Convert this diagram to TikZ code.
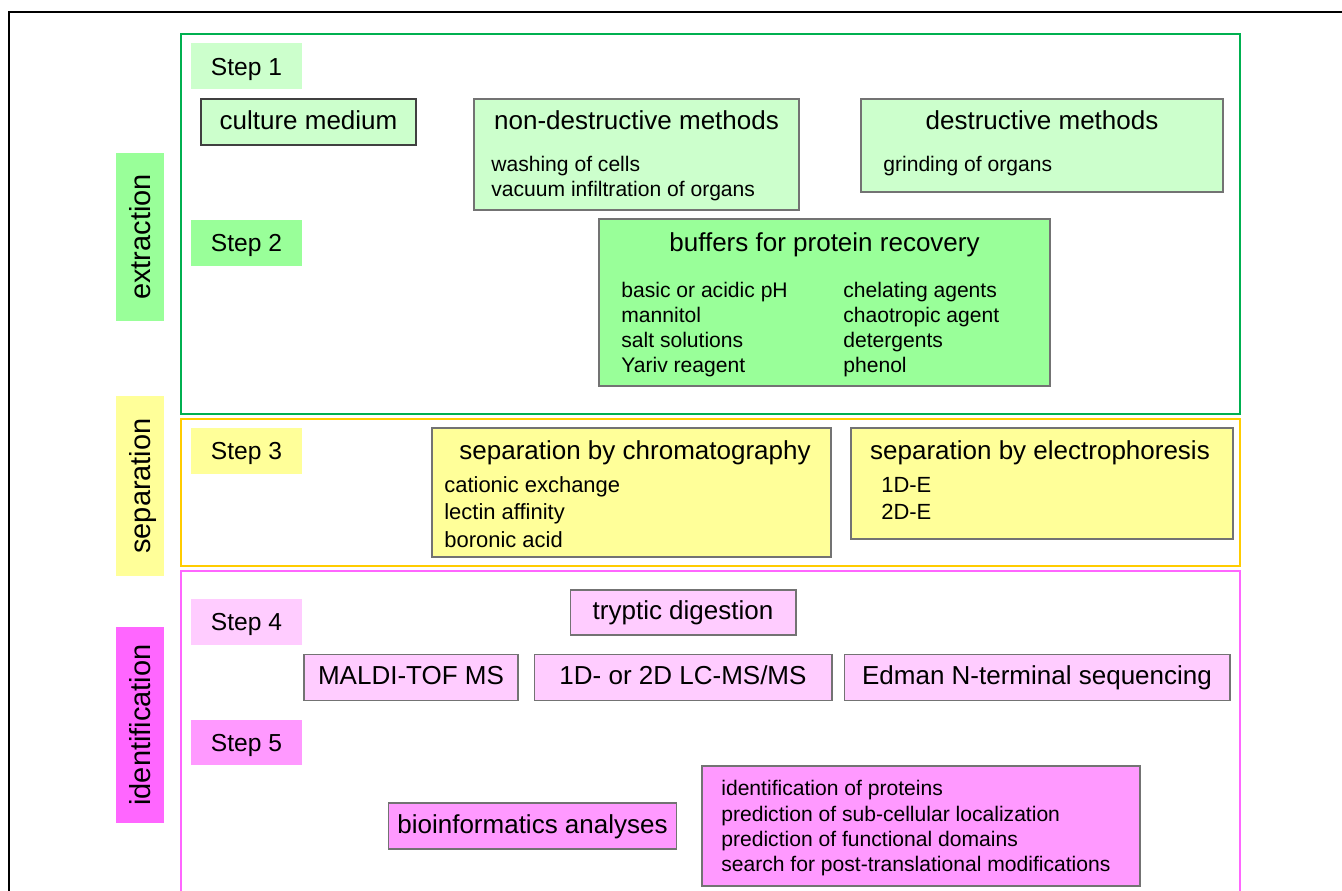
\documentclass[tikz,border=0pt]{standalone}
\usepackage{fontspec}
\setmainfont{Liberation Sans}
\usetikzlibrary{fit}

\definecolor{extgreen}{RGB}{0,176,80}
\definecolor{sepgold}{RGB}{255,204,0}
\definecolor{idpink}{RGB}{255,102,255}
\definecolor{palegreen}{RGB}{204,255,204}
\definecolor{midgreen}{RGB}{153,255,153}
\definecolor{paleyellow}{RGB}{255,255,153}
\definecolor{palepink}{RGB}{255,204,255}
\definecolor{midpink}{RGB}{255,153,255}

\tikzstyle{frame} = [rectangle, draw, line width=1.2pt, inner sep=0pt]
\tikzstyle{sidelabel} = [rectangle, rotate=90, minimum height=0.96cm, text height=13pt, text depth=1.5pt, font=\fontsize{16.5}{20}\selectfont]
\tikzstyle{steplabel} = [rectangle, minimum width=2.22cm, minimum height=0.92cm, text height=10.2pt, text depth=0.5pt, font=\fontsize{14}{17}\selectfont]
\tikzstyle{cell} = [rectangle, draw=black!55, line width=0.6pt, inner sep=0pt, minimum height=0.92cm, text height=10.7pt, text depth=2.7pt, font=\fontsize{14.8}{18}\selectfont]
\tikzstyle{panel} = [rectangle, draw=black!55, line width=0.6pt, inner sep=0pt]
\tikzstyle{title} = [anchor=base, inner sep=0pt, font=\fontsize{14.8}{18}\selectfont]
\tikzstyle{item} = [anchor=base west, inner sep=0pt, font=\fontsize{12}{14}\selectfont]

\begin{document}
\begin{tikzpicture}[x=0.02cm, y=-0.02cm]

    \clip (0,0) rectangle (1342,891);

    % Outer frame
    \draw [line width=1.4pt] (9,930) -- (9,12) -- (1380,12);

    % Stage frames
    \node (extframe) [frame, draw=extgreen, fit={(181,34) (1240,414)}] {};
    \node (sepframe) [frame, draw=sepgold, fit={(181,419) (1240,566)}] {};
    \node (idframe) [frame, draw=idpink, fit={(181,571) (1240,940)}] {};

    % Stage labels
    \node (extlabel) [sidelabel, fill=midgreen, minimum width=3.36cm] at (140,237) {extraction};
    \node (seplabel) [sidelabel, fill=paleyellow, minimum width=3.6cm] at (140,486) {separation};
    \node (idlabel) [sidelabel, fill=idpink, minimum width=3.92cm] at (140,725) {identification};

    % Step labels
    \node (step1) [steplabel, fill=palegreen] at (246.5,66.5) {Step 1};
    \node (step2) [steplabel, fill=midgreen] at (246.5,243) {Step 2};
    \node (step3) [steplabel, fill=paleyellow] at (246.5,451) {Step 3};
    \node (step4) [steplabel, fill=palepink] at (246.5,622) {Step 4};
    \node (step5) [steplabel, fill=midpink] at (246.5,742.5) {Step 5};

    % Extraction
    \node (culture) [cell, fill=palegreen, draw=black!75, minimum width=4.3cm] at (308.5,122) {culture medium};

    \node (nondes) [panel, fill=palegreen, fit={(474,99) (799,210)}] {};
    \node (nondestitle) [title] at (636.5,130) {non-destructive methods};
    \node (washing) [item] at (491,172) {washing of cells};
    \node (vacuum) [item] at (491,197) {vacuum infiltration of organs};

    \node (des) [panel, fill=palegreen, fit={(861,99) (1223,192)}] {};
    \node (destitle) [title] at (1042,130) {destructive methods};
    \node (grinding) [item] at (883,172) {grinding of organs};

    \node (buffers) [panel, fill=midgreen, fit={(599,219) (1050,386)}] {};
    \node (bufferstitle) [title] at (824.5,252) {buffers for protein recovery};
    \node (ph) [item] at (621,298) {basic or acidic pH};
    \node (mannitol) [item] at (621,323) {mannitol};
    \node (salt) [item] at (621,348) {salt solutions};
    \node (yariv) [item] at (621,373) {Yariv reagent};
    \node (chelating) [item] at (843,298) {chelating agents};
    \node (chaotropic) [item] at (843,323) {chaotropic agent};
    \node (detergents) [item] at (843,348) {detergents};
    \node (phenol) [item] at (843,373) {phenol};

    % Separation
    \node (chrom) [panel, fill=paleyellow, fit={(432,428) (831,557)}] {};
    \node (chromtitle) [title] at (635,460) {separation by chromatography};
    \node (cationic) [item, font=\fontsize{12.5}{15}\selectfont] at (444,493) {cationic exchange};
    \node (lectin) [item, font=\fontsize{12.5}{15}\selectfont] at (444,520) {lectin affinity};
    \node (boronic) [item, font=\fontsize{12.5}{15}\selectfont] at (444,547) {boronic acid};

    \node (electro) [panel, fill=paleyellow, fit={(851,428) (1233,539)}] {};
    \node (electrotitle) [title] at (1040,460) {separation by electrophoresis};
    \node (onede) [item, font=\fontsize{12.5}{15}\selectfont] at (881,493) {1D-E};
    \node (twode) [item, font=\fontsize{12.5}{15}\selectfont] at (881,520) {2D-E};

    % Identification
    \node (tryptic) [cell, fill=palepink, minimum width=4.52cm, minimum height=0.9cm] at (683,612.5) {tryptic digestion};
    \node (maldi) [cell, fill=palepink, minimum width=4.28cm] at (411,677.5) {MALDI-TOF MS};
    \node (lcms) [cell, fill=palepink, minimum width=5.96cm] at (683,677.5) {1D- or 2D LC-MS/MS};
    \node (edman) [cell, fill=palepink, minimum width=7.72cm] at (1037,677.5) {Edman N-terminal sequencing};

    \node (bioinf) [cell, fill=midpink, minimum width=5.76cm] at (532.5,826) {bioinformatics analyses};

    \node (results) [panel, fill=midpink, fit={(702,766) (1140,886)}] {};
    \node (proteins) [item] at (721,795) {identification of proteins};
    \node (localization) [item] at (721,821) {prediction of sub-cellular localization};
    \node (domains) [item] at (721,846) {prediction of functional domains};
    \node (modifications) [item] at (721,871) {search for post-translational modifications};

\end{tikzpicture}
\end{document}
